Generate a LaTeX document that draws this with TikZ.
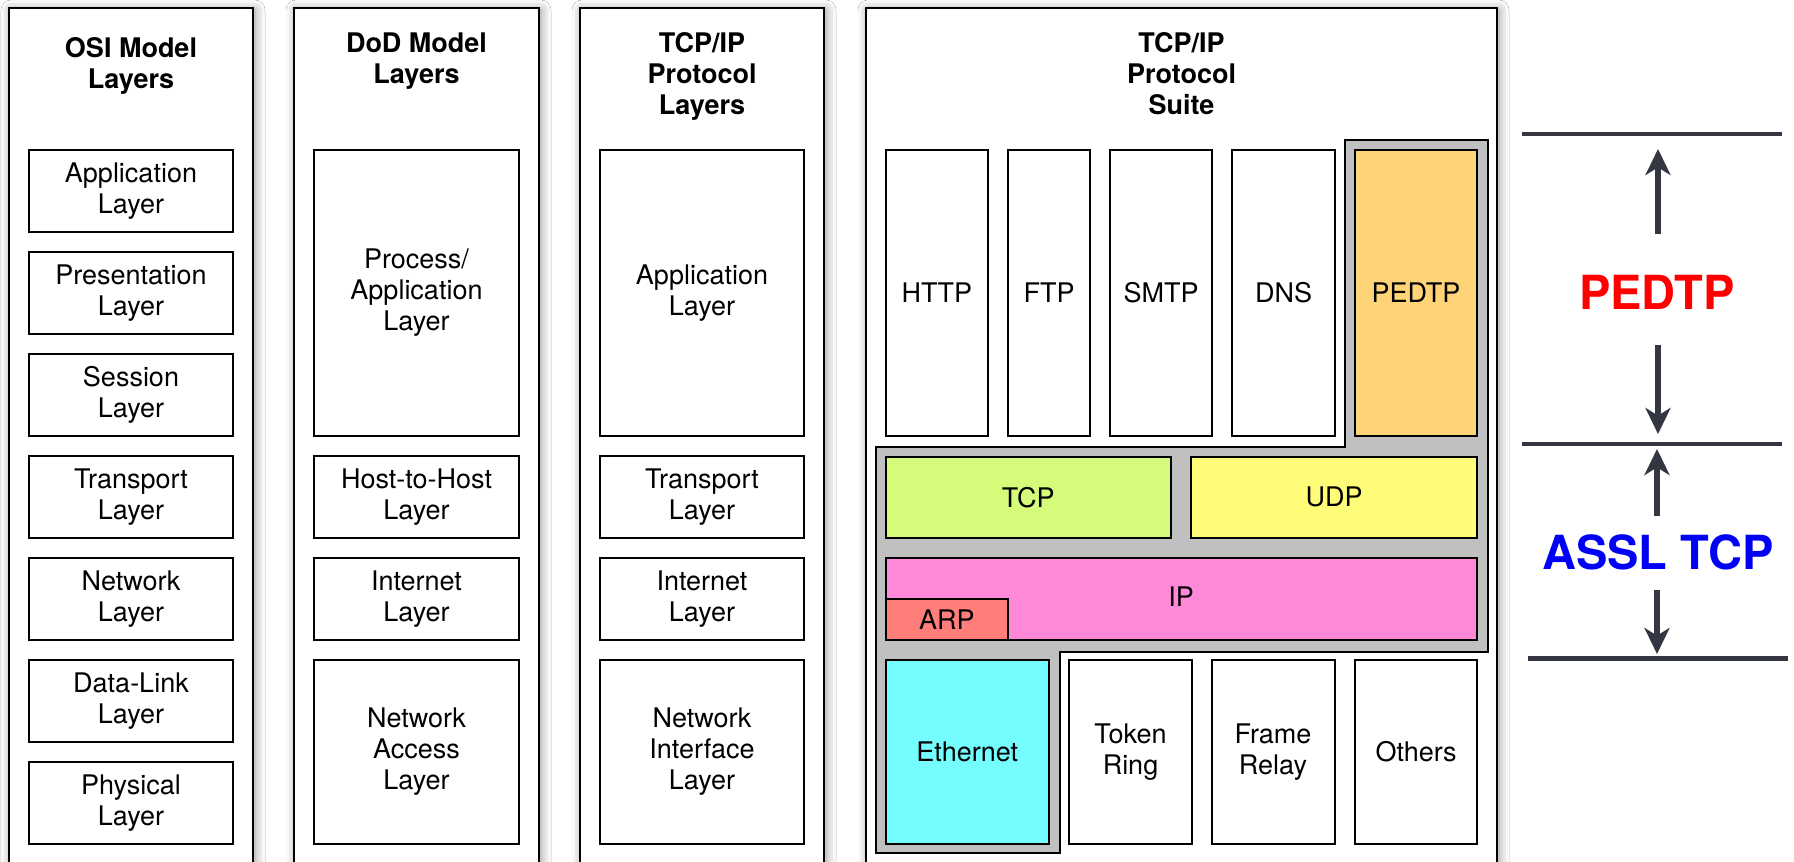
\documentclass[tikz,border=0pt]{standalone}
\usepackage{fontspec}
\setmainfont{TeX Gyre Heros}
\usetikzlibrary{shadows.blur, arrows.meta}

\definecolor{cantaloupe}{HTML}{FFD479}
\definecolor{keylime}{HTML}{D4FB79}
\definecolor{banana}{HTML}{FFFC79}
\definecolor{carnation}{HTML}{FF88D8}
\definecolor{salmon}{HTML}{FF7E79}
\definecolor{ice}{HTML}{73FDFF}
\definecolor{groupgray}{HTML}{C0C0C0}
\definecolor{marker}{HTML}{343741}
\definecolor{tagred}{HTML}{FF0000}
\definecolor{tagblue}{HTML}{0000F5}

\newcommand\lyrfont{\fontsize{13.5}{15.5}\selectfont}
\newcommand\tagfont{\fontsize{23.5}{28}\selectfont\bfseries}

% \lbox[style]{name}{x1}{y1}{x2}{y2}{text}: a box spanning two corners
\newcommand\lbox[7][]{%
  \pgfmathsetmacro\lbw{abs(#5-#3)*0.5}%
  \pgfmathsetmacro\lbh{abs(#6-#4)*0.5}%
  \node[layer, minimum width=\lbw pt, minimum height=\lbh pt, #1]
    (#2) at ({(#3+#5)/2},{(#4+#6)/2}) {#7};}

\begin{document}
\begin{tikzpicture}[x=0.5pt, y=-0.5pt,
  column/.style={draw=black, line width=1pt, fill=white, inner sep=0pt,
    blur shadow={shadow xshift=1pt, shadow yshift=-1pt,
                 shadow blur radius=5pt, shadow opacity=45}},
  coltitle/.style={anchor=north, inner sep=0pt, align=center,
    font=\lyrfont\bfseries},
  layer/.style={draw=black, line width=1pt, fill=white, inner sep=0pt,
    align=center, font=\lyrfont},
  bar/.style={draw=marker, line width=2.3pt},
  updown/.style={draw=marker, line width=2.6pt,
    -{Stealth[length=13pt, width=12.5pt, inset=3.8pt]}},
  tag/.style={inner sep=0pt, font=\tagfont}]

\clip (0,0) rectangle (1794,862);
\fill[white] (0,0) rectangle (1794,862);

% ---------- OSI model column ----------
\lbox[column]{osi}{9}{8}{253}{905}{}
\node[coltitle] (osi-title) at (131,37.5) {OSI Model\\Layers};
\lbox{osi-app}{29}{150}{233}{232}{Application\\Layer}
\lbox{osi-pres}{29}{252}{233}{334}{Presentation\\Layer}
\lbox{osi-sess}{29}{354}{233}{436}{Session\\Layer}
\lbox{osi-tran}{29}{456}{233}{538}{Transport\\Layer}
\lbox{osi-net}{29}{558}{233}{640}{Network\\Layer}
\lbox{osi-link}{29}{660}{233}{742}{Data-Link\\Layer}
\lbox{osi-phys}{29}{762}{233}{844}{Physical\\Layer}

% ---------- DoD model column ----------
\lbox[column]{dod}{294}{8}{539}{905}{}
\node[coltitle] (dod-title) at (416.5,32.5) {DoD Model\\Layers};
\lbox{dod-proc}{314}{150}{519}{436}{Process/\\Application\\Layer}
\lbox{dod-host}{314}{456}{519}{538}{Host-to-Host\\Layer}
\lbox{dod-inet}{314}{558}{519}{640}{Internet\\Layer}
\lbox{dod-nacc}{314}{660}{519}{844}{Network\\Access\\Layer}

% ---------- TCP/IP protocol layers column ----------
\lbox[column]{tcl}{580}{8}{824}{905}{}
\node[coltitle] (tcl-title) at (702,32) {TCP/IP\\Protocol\\Layers};
\lbox{tcl-app}{600}{150}{804}{436}{Application\\Layer}
\lbox{tcl-tran}{600}{456}{804}{538}{Transport\\Layer}
\lbox{tcl-inet}{600}{558}{804}{640}{Internet\\Layer}
\lbox{tcl-nif}{600}{660}{804}{844}{Network\\Interface\\Layer}

% ---------- TCP/IP protocol suite column ----------
\lbox[column]{suite}{866}{8}{1497}{905}{}
\node[coltitle] (suite-title) at (1181.5,32) {TCP/IP\\Protocol\\Suite};

% grey band holding PEDTP, the transport protocols, IP and Ethernet
\draw[fill=groupgray, line width=1pt]
  (1344.5,140) -- (1487.5,140) -- (1487.5,652) -- (1060,652)
  -- (1060,852.5) -- (875.5,852.5) -- (875.5,446.5) -- (1344.5,446.5) -- cycle;

\lbox{http}{885.5}{150}{988}{436}{HTTP}
\lbox{ftp}{1008}{150}{1090}{436}{FTP}
\lbox{smtp}{1110}{150}{1212}{436}{SMTP}
\lbox{dns}{1232}{150}{1335}{436}{DNS}
\lbox[fill=cantaloupe]{pedtp}{1355}{150}{1477}{436}{PEDTP}

\lbox[fill=keylime]{tcp}{885.5}{456.5}{1171}{538}{TCP}
\lbox[fill=banana]{udp}{1191}{456.5}{1477}{538}{UDP}

\lbox[fill=carnation]{ip}{885.5}{558}{1477}{640}{}
\node[font=\lyrfont, inner sep=0pt] (ip-label) at (1181,597) {IP};
\lbox[fill=salmon]{arp}{885.5}{599}{1008}{640}{ARP}

\lbox[fill=ice]{ether}{885.5}{660}{1049}{844}{Ethernet}
\lbox{token}{1069}{660}{1192}{844}{Token\\Ring}
\lbox{frame}{1211.5}{660}{1334.5}{844}{Frame\\Relay}
\lbox{others}{1355}{660}{1477}{844}{Others}

% ---------- span markers on the right ----------
\coordinate (b1l) at (1522,134);   \coordinate (b1r) at (1782,134);
\coordinate (b2l) at (1522,444);   \coordinate (b2r) at (1782,444);
\coordinate (b3l) at (1528,658.5); \coordinate (b3r) at (1788,658.5);
\draw[bar] (b1l) -- (b1r);
\draw[bar] (b2l) -- (b2r);
\draw[bar] (b3l) -- (b3r);

\node[tag, text=tagred]  (pedtp-tag) at (1657,292) {PEDTP};
\node[tag, text=tagblue] (assl-tag)  at (1658,552) {ASSL TCP};

\coordinate (a1s) at (1658,234);   \coordinate (a1e) at (1658,149);
\coordinate (a2s) at (1658,345);   \coordinate (a2e) at (1658,434);
\coordinate (a3s) at (1657,516);   \coordinate (a3e) at (1657,449);
\coordinate (a4s) at (1657,590);   \coordinate (a4e) at (1657,654);
\draw[updown] (a1s) -- (a1e);
\draw[updown] (a2s) -- (a2e);
\draw[updown] (a3s) -- (a3e);
\draw[updown] (a4s) -- (a4e);

\end{tikzpicture}
\end{document}
